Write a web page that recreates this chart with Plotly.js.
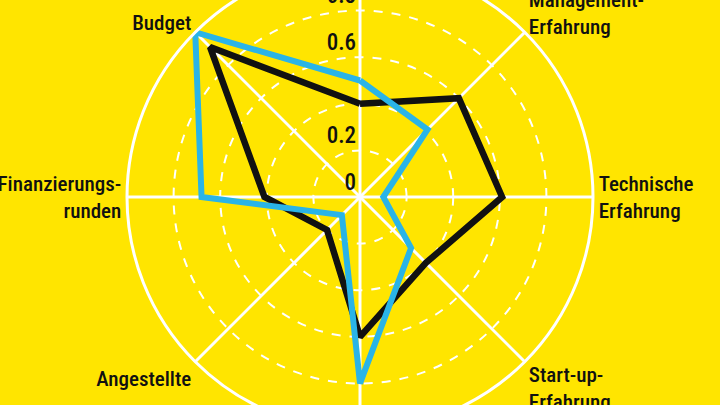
<!DOCTYPE html>
<html>
<head>
<meta charset="utf-8">
<script src="https://cdn.plot.ly/plotly-3.0.1.min.js"></script>
<style>
  html, body { margin: 0; padding: 0; background: #FFE500; overflow: hidden; }
  #wrap { width: 720px; height: 405px; overflow: hidden; position: relative; }
  #chart { position: absolute; left: 0; top: -106px; width: 720px; height: 600px; }
</style>
</head>
<body>
<div id="wrap"><div id="chart"></div></div>
<script>
// categories, clockwise from the top
var categories = [
  "Branchen-<br>Erfahrung",
  "Management-<br>Erfahrung",
  "Technische<br>Erfahrung",
  "Start-up-<br>Erfahrung",
  "Ausbildung",
  "Angestellte",
  "Finanzierungs-<br>runden",
  "Budget"
];

var blackValues = [0.40, 0.60, 0.61, 0.40, 0.60, 0.20, 0.41, 0.91];
var blueValues  = [0.50, 0.41, 0.10, 0.31, 0.80, 0.11, 0.68, 1.00];

var radialTicks = [0, 0.2, 0.4, 0.6, 0.8];
var radialLabels = ["0", "0.2", "", "0.6", "0.8"];

var yellow = "#FFE500";
var font = "'Liberation Sans Narrow', 'Roboto Condensed', Roboto, sans-serif";

function closed(a){
  return a.concat([a[0]]);
}

var data = [
  {
    type: "scatterpolar",
    mode: "lines",
    r: closed(blackValues),
    theta: closed(categories),
    line: {color: "#111111", width: 6.5},
    hoverinfo: "skip"
  },
  {
    type: "scatterpolar",
    mode: "lines",
    r: closed(blueValues),
    theta: closed(categories),
    line: {color: "#2AB4E7", width: 6},
    hoverinfo: "skip"
  }
];

var layout = {
  width: 720,
  height: 600,
  showlegend: false,
  paper_bgcolor: yellow,
  margin: {l: 0, r: 0, t: 70, b: 64, pad: 0},
  font: {family: font, size: 21, color: "#111111", weight: 500},
  polar: {
    bgcolor: yellow,
    angularaxis: {
      direction: "clockwise",
      rotation: 90,
      categoryorder: "array",
      categoryarray: categories,
      showline: true,
      linecolor: "#ffffff",
      linewidth: 3,
      gridcolor: "#ffffff",
      gridwidth: 3,
      ticks: "",
      tickfont: {family: font, size: 21, color: "#111111", weight: 500}
    },
    radialaxis: {
      range: [0, 1],
      angle: 90,
      side: "counterclockwise",
      showline: false,
      ticks: "",
      tickvals: radialTicks,
      // trailing blank line lifts each label just above its ring
      ticktext: radialLabels.map(function(t){ return t === "" ? "" : t + "<br>&nbsp;"; }),
      tickangle: 90,
      gridcolor: "#ffffff",
      gridwidth: 2,
      griddash: "dash",
      tickfont: {family: font, size: 23, color: "#111111", weight: 500}
    }
  }
};

Plotly.newPlot("chart", data, layout, {staticPlot: true, displayModeBar: false});
</script>
</body>
</html>
